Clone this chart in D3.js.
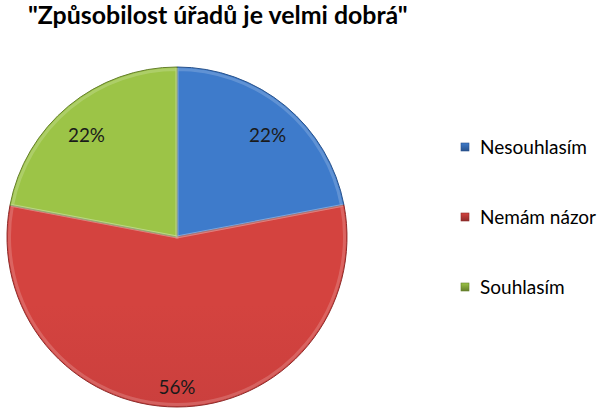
<!DOCTYPE html>
<html lang="cs">
<head>
<meta charset="UTF-8">
<title>Způsobilost úřadů</title>
<script src="https://cdn.jsdelivr.net/npm/d3@7"></script>
<style>
    body {
        margin: 0;
        background: #fff;
    }

    svg {
        display: block;
        font-family: Lato, 'Open Sans', sans-serif;
    }
</style>
</head>
<body>
<div id="chart"></div>
<script>
let title = '"Způsobilost úřadů je velmi dobrá"'
let categories = ['Nesouhlasím', 'Nemám názor', 'Souhlasím']
let values = [22, 56, 22]
let valueLabels = ['22%', '56%', '22%']

// light, mid, dark shade per slice
let shades = [
    ['#3e7bcb', '#3468b0', '#28528c'],
    ['#d4433f', '#b5373a', '#8e2c2b'],
    ['#9cc447', '#84a83b', '#657f2c']
]

let width = 599, height = 419
let cx = 177, cy = 237, radius = 170

let svg = d3.select('#chart').append('svg')
    .attr('width', width)
    .attr('height', height)

let defs = svg.append('defs')

// vertical gradient for each slice
shades.forEach((s, i) => {
    let g = defs.append('linearGradient')
        .attr('id', 'grad' + i)
        .attr('gradientUnits', 'userSpaceOnUse')
        .attr('x1', 0).attr('y1', cy - radius)
        .attr('x2', 0).attr('y2', cy + radius)
    g.append('stop').attr('offset', '0%').attr('stop-color', s[0])
    g.append('stop').attr('offset', '100%').attr('stop-color', s[1])

    let sw = defs.append('linearGradient')
        .attr('id', 'sw' + i)
        .attr('x1', 0).attr('y1', 0).attr('x2', 0).attr('y2', 1)
    sw.append('stop').attr('offset', '0%').attr('stop-color', s[0])
    sw.append('stop').attr('offset', '100%').attr('stop-color', s[2])
})

// shrink or grow font so the text gets a given width
function fitWidth(sel, target) {
    let w = sel.node().getComputedTextLength()
    let fs = parseFloat(sel.attr('font-size'))
    sel.attr('font-size', fs * target / w)
}

//title
svg.append('text')
    .attr('x', 28)
    .attr('y', 24)
    .attr('font-size', 21)
    .attr('font-weight', 'bold')
    .attr('fill', '#000')
    .text(title)
    .call(fitWidth, 380)

//pie
let pie = d3.pie().sort(null).value(d => d)
let arcs = pie(values)

let arc = d3.arc().innerRadius(0).outerRadius(radius)
let bevel = d3.arc().innerRadius(0).outerRadius(radius - 2.5)
let labelArc = d3.arc().innerRadius(142).outerRadius(142)

let g = svg.append('g').attr('transform', `translate(${cx},${cy})`)

g.selectAll('path.slice')
    .data(arcs)
    .enter()
    .append('path')
    .attr('class', 'slice')
    .attr('d', arc)
    .attr('fill', (d, i) => `url(#grad${i})`)
    .attr('stroke', (d, i) => shades[i][2])
    .attr('stroke-width', 1)

// soft highlight along slice edges
g.selectAll('path.bevel')
    .data(arcs)
    .enter()
    .append('path')
    .attr('class', 'bevel')
    .attr('d', bevel)
    .attr('fill', 'none')
    .attr('stroke', '#fff')
    .attr('stroke-opacity', 0.18)
    .attr('stroke-width', 3)

g.selectAll('text.pct')
    .data(arcs)
    .enter()
    .append('text')
    .attr('class', 'pct')
    .attr('transform', d => {
        let c = labelArc.centroid(d)
        return `translate(${c[0]},${c[1] + 8})`
    })
    .attr('text-anchor', 'middle')
    .attr('dy', '0.35em')
    .attr('font-size', 17)
    .attr('fill', '#1a1a1a')
    .text((d, i) => valueLabels[i])
    .each(function () { fitWidth(d3.select(this), 37) })

//legend
let ly = d3.scalePoint().domain(categories).range([147, 287])

let legend = svg.append('g').selectAll('g')
    .data(categories)
    .enter()
    .append('g')
    .attr('transform', d => `translate(461,${ly(d)})`)

legend.append('rect')
    .attr('x', 0)
    .attr('y', -4)
    .attr('width', 8)
    .attr('height', 8)
    .attr('fill', (d, i) => `url(#sw${i})`)
    .attr('stroke', (d, i) => shades[i][2])
    .attr('stroke-width', 0.6)

legend.append('text')
    .attr('x', 19)
    .attr('y', 6.5)
    .attr('font-size', 17)
    .attr('fill', '#000')
    .text(d => d)

legend.select('text').filter((d, i) => i == 0).call(fitWidth, 107)
legend.selectAll('text').attr('font-size', legend.select('text').attr('font-size'))
</script>
</body>
</html>
